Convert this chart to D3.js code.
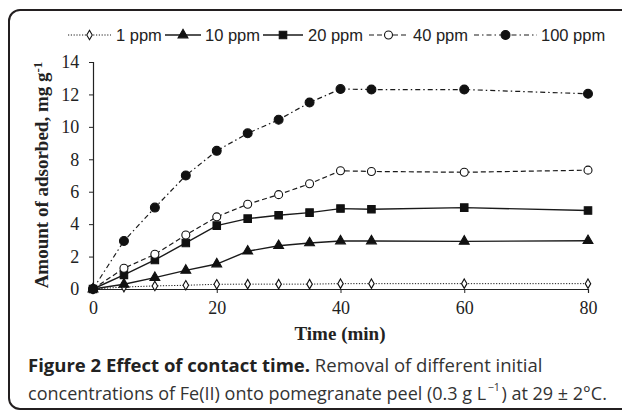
<!DOCTYPE html>
<html>
<head>
<meta charset="utf-8">
<script src="https://cdn.jsdelivr.net/npm/d3@7"></script>
<style>
  body { margin: 0; background: #fff; }
  svg { display: block; }
</style>
</head>
<body>
<svg id="chart" width="622" height="415"></svg>
<script>
// contact time (min)
var times = [0, 5, 10, 15, 20, 25, 30, 35, 40, 45, 60, 80];

// amount adsorbed (mg/g) for each initial concentration
var ppm1   = [0, 0.12, 0.19, 0.23, 0.29, 0.30, 0.30, 0.30, 0.33, 0.33, 0.33, 0.33];
var ppm10  = [0, 0.29, 0.70, 1.15, 1.54, 2.33, 2.67, 2.84, 2.96, 2.96, 2.94, 2.98];
var ppm20  = [0, 0.87, 1.79, 2.84, 3.91, 4.34, 4.55, 4.71, 4.96, 4.92, 5.02, 4.84];
var ppm40  = [0, 1.28, 2.14, 3.33, 4.45, 5.23, 5.82, 6.49, 7.29, 7.25, 7.20, 7.33];
var ppm100 = [0, 2.96, 5.02, 7.00, 8.52, 9.60, 10.44, 11.50, 12.33, 12.30, 12.30, 12.04];

var seriesNames = ["1 ppm", "10 ppm", "20 ppm", "40 ppm", "100 ppm"];
var xTicks = [0, 20, 40, 60, 80];
var yTicks = [0, 2, 4, 6, 8, 10, 12, 14];

var svg = d3.select("#chart");

// rounded frame round the figure
svg.append("rect")
    .attr("x", 9).attr("y", 10)
    .attr("width", 640).attr("height", 399)
    .attr("rx", 11).attr("ry", 11)
    .style("fill", "none")
    .style("stroke", "#231f20")
    .style("stroke-width", 2);

var x = d3.scaleLinear().domain([0, 80]).range([93, 588]);
var y = d3.scaleLinear().domain([0, 14]).range([289, 62]);

var styles = [
    { dash: "1.2,1.6", width: 1, marker: "diamond", fill: "#fff" },
    { dash: null,      width: 1.4, marker: "triangle", fill: "#111" },
    { dash: null,      width: 1.4, marker: "square", fill: "#111" },
    { dash: "5,3",     width: 1.2, marker: "circle", fill: "#fff" },
    { dash: "5,3,1.5,3", width: 1.2, marker: "dot", fill: "#111" }
];

var allValues = [ppm1, ppm10, ppm20, ppm40, ppm100];

function symbolFor(kind) {
    if (kind === "diamond") return d3.symbol().type(d3.symbolDiamond).size(26);
    if (kind === "triangle") return d3.symbol().type(d3.symbolTriangle).size(42);
    if (kind === "square") return d3.symbol().type(d3.symbolSquare).size(56);
    if (kind === "circle") return d3.symbol().type(d3.symbolCircle).size(50);
    return d3.symbol().type(d3.symbolCircle).size(62);
}

// axes
var xAxis = svg.append("g")
    .attr("transform", "translate(0," + y(0) + ")")
    .call(d3.axisBottom(x).tickValues(xTicks).tickSize(4).tickPadding(8));
var yAxis = svg.append("g")
    .attr("transform", "translate(" + x(0) + ",0)")
    .call(d3.axisLeft(y).tickValues(yTicks).tickSize(4).tickPadding(8));

[xAxis, yAxis].forEach(function (ax) {
    ax.select(".domain").style("stroke", "#222").style("stroke-width", 1.2);
    ax.selectAll(".tick line").style("stroke", "#222");
    ax.selectAll("text")
        .style("font-family", "'Liberation Serif', 'Times New Roman', serif")
        .style("font-size", "18px")
        .style("fill", "#222");
});
yAxis.selectAll("text").attr("dx", "-0.1em");

// series lines and markers
var line = d3.line()
    .x(function (d) { return x(d[0]); })
    .y(function (d) { return y(d[1]); });

allValues.forEach(function (vals, i) {
    var st = styles[i];
    var pts = times.map(function (t, j) { return [t, vals[j]]; });
    svg.append("path")
        .datum(pts)
        .attr("d", line)
        .style("fill", "none")
        .style("stroke", "#1a1a1a")
        .style("stroke-width", st.width)
        .style("stroke-dasharray", st.dash);
    svg.append("g").selectAll("path")
        .data(pts)
        .enter().append("path")
        .attr("d", symbolFor(st.marker))
        .attr("transform", function (d) { return "translate(" + x(d[0]) + "," + y(d[1]) + ")"; })
        .style("fill", st.fill)
        .style("stroke", "#111")
        .style("stroke-width", 1.1);
});

// legend
var legendLine = [[68, 111], [165, 201], [263, 303], [369, 408], [474, 537]];
var legendText = [116, 205, 308, 413, 541];
seriesNames.forEach(function (name, i) {
    var st = styles[i];
    var g = svg.append("g");
    g.append("line")
        .attr("x1", legendLine[i][0]).attr("x2", legendLine[i][1])
        .attr("y1", 35).attr("y2", 35)
        .style("stroke", "#1a1a1a")
        .style("stroke-width", st.width)
        .style("stroke-dasharray", st.dash);
    g.append("path")
        .attr("d", symbolFor(st.marker))
        .attr("transform", "translate(" + ((legendLine[i][0] + legendLine[i][1]) / 2) + ",35)")
        .style("fill", st.fill)
        .style("stroke", "#111")
        .style("stroke-width", 1.1);
    g.append("text")
        .attr("x", legendText[i]).attr("y", 41)
        .text(name)
        .style("font-family", "'Liberation Sans', Arial, sans-serif")
        .style("font-size", "16.5px")
        .style("fill", "#222");
});

// axis titles
svg.append("text")
    .attr("x", 340).attr("y", 340)
    .attr("text-anchor", "middle")
    .style("font-family", "'Liberation Serif', 'Times New Roman', serif")
    .style("font-weight", "bold")
    .style("font-size", "19px")
    .style("fill", "#222")
    .text("Time (min)");

var yt = svg.append("text")
    .attr("transform", "translate(48,175) rotate(-90)")
    .attr("text-anchor", "middle")
    .style("font-family", "'Liberation Serif', 'Times New Roman', serif")
    .style("font-weight", "bold")
    .style("font-size", "19px")
    .style("fill", "#222");
yt.append("tspan").text("Amount of adsorbed, mg g");
yt.append("tspan").attr("dy", "-0.45em").style("font-size", "13px").text("-1");

// caption
var capFont = "'Open Sans', 'Noto Sans', sans-serif";
var cap1 = svg.append("text")
    .attr("x", 28).attr("y", 372)
    .style("font-family", capFont)
    .style("font-size", "18.5px")
    .style("fill", "#333");
cap1.append("tspan").style("font-weight", "bold").style("fill", "#222").text("Figure 2 Effect of contact time.");
cap1.append("tspan").text(" Removal of different initial");

var l1 = cap1.node().getComputedTextLength();
if (l1 > 521) cap1.style("font-size", (18.5 * 521 / l1) + "px");

// second caption line: pieces laid side by side so the superscript sits clear
var cap2a = svg.append("text")
    .attr("x", 28).attr("y", 400)
    .style("font-family", capFont)
    .style("font-size", "18.5px")
    .style("fill", "#333")
    .text("concentrations of Fe(II) onto pomegranate peel (0.3 g L");
var cap2b = svg.append("text")
    .attr("y", 391)
    .style("font-family", capFont)
    .style("font-size", "11px")
    .style("fill", "#333")
    .text("\u22121");
var cap2c = svg.append("text")
    .attr("y", 400)
    .style("font-family", capFont)
    .style("font-size", "18.5px")
    .style("fill", "#333")
    .text(") at 29 \u00b1 2\u00b0C.");

var total = cap2a.node().getComputedTextLength() + cap2b.node().getComputedTextLength() + 3
    + cap2c.node().getComputedTextLength();
var k = Math.min(1, 579 / total);
cap2a.style("font-size", (18.5 * k) + "px");
cap2b.style("font-size", (11 * k) + "px");
cap2c.style("font-size", (18.5 * k) + "px");
var wa = cap2a.node().getComputedTextLength();
var wb = cap2b.node().getComputedTextLength();
cap2b.attr("x", 28 + wa + 1.5);
cap2c.attr("x", 28 + wa + wb + 3);
</script>
</body>
</html>
